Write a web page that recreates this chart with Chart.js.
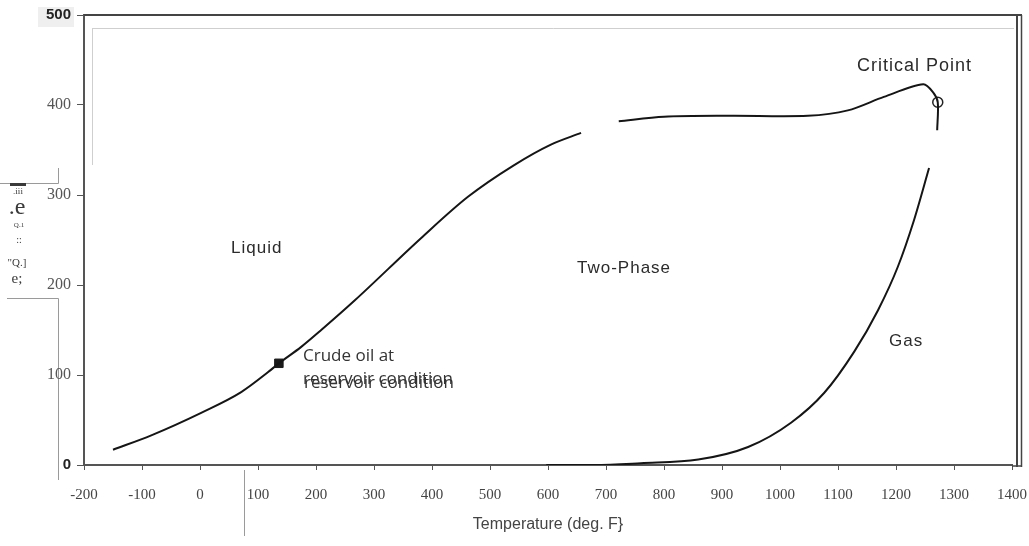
<!DOCTYPE html>
<html>
<head>
<meta charset="utf-8">
<script src="https://cdn.jsdelivr.net/npm/chart.js@4.4.0/dist/chart.umd.min.js"></script>
<style>
    html, body { margin: 0; padding: 0; background: #fff; }
    #wrap { width: 1029px; height: 546px; position: relative; }
</style>
</head>
<body>
<div id="wrap"><canvas id="phaseChart"></canvas></div>
<script>
// Phase envelope (temperature deg F, pressure)
const bubbleLowT = [-150, -84, 2, 71, 117, 136, 174, 209, 267, 381, 462, 541, 605, 657];
const bubbleLowP = [17, 33, 58, 81, 103, 113, 131, 150, 183, 252, 298, 333, 356, 369];

const bubbleHighT = [722, 800, 916, 1048, 1117, 1179, 1247, 1264, 1272, 1271];
const bubbleHighP = [382, 387, 388, 388, 394, 409, 423, 414, 403, 372];

const dewT = [597, 680, 760, 859, 945, 1019, 1076, 1128, 1169, 1203, 1231, 1257];
const dewP = [0, 0, 2, 6, 20, 47, 80, 126, 172, 220, 272, 330];

const crudeOilT = [136];
const crudeOilP = [113];
const criticalT = [1272];
const criticalP = [403];

const xTicks = [-200, -100, 0, 100, 200, 300, 400, 500, 600, 700, 800, 900, 1000, 1100, 1200, 1300, 1400];
const yTicks = [0, 100, 200, 300, 400, 500];

function toPoints(xs, ys) {
    return xs.map((x, i) => ({ x: x, y: ys[i] }));
}

// frame lines, scan artefacts and text labels
const decorPlugin = {
    id: 'decor',
    beforeDraw(chart) {
        const ctx = chart.ctx;
        ctx.save();
        // light box behind "500"
        ctx.fillStyle = '#efefef';
        ctx.fillRect(38, 7, 36, 20);
        // thin collage lines
        ctx.strokeStyle = '#9a9a9a';
        ctx.lineWidth = 1;
        ctx.beginPath();
        ctx.moveTo(0, 183.5); ctx.lineTo(58.5, 183.5);
        ctx.moveTo(58.5, 168); ctx.lineTo(58.5, 183.5);
        ctx.moveTo(7, 298.5); ctx.lineTo(58.5, 298.5);
        ctx.moveTo(58.5, 298.5); ctx.lineTo(58.5, 480);
        ctx.moveTo(244.5, 470); ctx.lineTo(244.5, 536);
        ctx.stroke();
        ctx.strokeStyle = '#cfcfcf';
        ctx.beginPath();
        ctx.moveTo(92.5, 28); ctx.lineTo(92.5, 165);
        ctx.moveTo(92.5, 28.5); ctx.lineTo(1014, 28.5);
        ctx.stroke();
        ctx.restore();
    },
    afterDraw(chart) {
        const ctx = chart.ctx;
        const area = chart.chartArea;
        ctx.save();
        // top and right border
        ctx.strokeStyle = '#444';
        ctx.lineWidth = 2;
        ctx.beginPath();
        ctx.moveTo(area.left, 15); ctx.lineTo(1022, 15);
        ctx.moveTo(1017, 15); ctx.lineTo(1017, 467);
        ctx.stroke();
        ctx.lineWidth = 1.5;
        ctx.beginPath();
        ctx.moveTo(1021.5, 15); ctx.lineTo(1021.5, 467);
        ctx.moveTo(area.right, area.bottom + 1); ctx.lineTo(1021, area.bottom + 1);
        ctx.stroke();

        // region labels
        ctx.fillStyle = '#2b2b2b';
        ctx.textBaseline = 'middle';
        ctx.textAlign = 'left';
        ctx.letterSpacing = '1px';
        ctx.font = '17px "Liberation Sans", Arial, sans-serif';
        ctx.fillText('Liquid', 231, 248);
        ctx.fillText('Two-Phase', 577, 268);
        ctx.fillText('Gas', 889, 341);
        ctx.font = '18px "Liberation Sans", Arial, sans-serif';
        ctx.fillText('Critical Point', 857, 66);
        ctx.letterSpacing = '0px';

        ctx.font = '17px "Open Sans", sans-serif';
        ctx.fillStyle = '#333';
        ctx.fillText('Crude oil at', 303, 356);
        ctx.fillText('reservoir condition', 303, 379);
        ctx.fillText('reservoir condition', 304, 383);

        // garbled y axis title as it appears in the scan
        ctx.fillStyle = '#3a3a3a';
        ctx.fillRect(10, 183, 16, 3);
        ctx.textAlign = 'center';
        ctx.font = '9px "Liberation Serif", serif';
        ctx.fillText('.iii', 18, 192);
        ctx.font = '24px "Liberation Serif", serif';
        ctx.fillText('.e', 17, 208);
        ctx.font = '7px "Liberation Serif", serif';
        ctx.fillText('Q.1', 19, 225);
        ctx.font = '10px "Liberation Serif", serif';
        ctx.fillText('::', 19, 240);
        ctx.font = '11px "Liberation Serif", serif';
        ctx.fillText('"Q.]', 17, 263);
        ctx.font = '15px "Liberation Serif", serif';
        ctx.fillText('e;', 17, 279);
        ctx.restore();
    }
};

function initPhaseChart() {
    const ctx = document.getElementById('phaseChart').getContext('2d');
    const curveStyle = {
        borderColor: '#151515',
        borderWidth: 2,
        pointRadius: 0,
        fill: false,
        showLine: true
    };
    new Chart(ctx, {
        type: 'scatter',
        data: {
            datasets: [
                Object.assign({ label: 'Bubble point (low)', data: toPoints(bubbleLowT, bubbleLowP), cubicInterpolationMode: 'monotone' }, curveStyle),
                Object.assign({ label: 'Bubble point (high)', data: toPoints(bubbleHighT, bubbleHighP), tension: 0.3 }, curveStyle),
                Object.assign({ label: 'Dew point', data: toPoints(dewT, dewP), cubicInterpolationMode: 'monotone' }, curveStyle),
                {
                    label: 'Crude oil',
                    data: toPoints(crudeOilT, crudeOilP),
                    pointStyle: 'rect',
                    pointRadius: 6,
                    backgroundColor: '#1a1a1a',
                    borderColor: '#1a1a1a'
                },
                {
                    label: 'Critical point',
                    data: toPoints(criticalT, criticalP),
                    pointStyle: 'circle',
                    pointRadius: 5,
                    borderWidth: 1.5,
                    backgroundColor: '#fff',
                    borderColor: '#222'
                }
            ]
        },
        options: {
            responsive: true,
            maintainAspectRatio: false,
            animation: false,
            layout: {
                padding: { left: 0, right: 17, top: 15, bottom: 0 }
            },
            plugins: {
                legend: { display: false },
                tooltip: { enabled: false }
            },
            scales: {
                x: {
                    type: 'linear',
                    min: -200,
                    max: 1400,
                    afterFit: (scale) => {
                        scale.height = 81;
                        scale.paddingLeft = 0;
                        scale.paddingRight = 0;
                    },
                    afterBuildTicks: (scale) => { scale.ticks = xTicks.map(v => ({ value: v })); },
                    grid: {
                        drawOnChartArea: false,
                        color: '#555',
                        tickLength: 5
                    },
                    border: { color: '#555', width: 2 },
                    ticks: {
                        autoSkip: false,
                        maxRotation: 0,
                        padding: 16,
                        color: '#444',
                        font: { family: '"Liberation Serif", serif', size: 15 },
                        callback: (v) => String(v)
                    },
                    title: {
                        display: true,
                        text: 'Temperature (deg. F}',
                        color: '#444',
                        padding: { top: 0, bottom: 12 },
                        font: { family: '"Liberation Sans Narrow", "Liberation Sans", sans-serif', size: 16 }
                    }
                },
                y: {
                    min: 0,
                    max: 500,
                    afterFit: (scale) => { scale.width = 84; },
                    afterBuildTicks: (scale) => { scale.ticks = yTicks.map(v => ({ value: v })); },
                    grid: {
                        drawOnChartArea: false,
                        color: '#555',
                        tickLength: 7
                    },
                    border: { color: '#555', width: 2 },
                    ticks: {
                        padding: 6,
                        color: (c) => (c.tick && (c.tick.value === 500 || c.tick.value === 0)) ? '#222' : '#555',
                        font: (c) => {
                            if (c.tick && (c.tick.value === 500 || c.tick.value === 0)) {
                                return { family: '"Liberation Sans", Arial, sans-serif', size: 15, weight: 'bold' };
                            }
                            return { family: '"Liberation Serif", serif', size: 16 };
                        },
                        callback: (v) => String(v)
                    }
                }
            }
        },
        plugins: [decorPlugin]
    });
}

window.addEventListener('load', () => {
    initPhaseChart();
});
</script>
</body>
</html>
